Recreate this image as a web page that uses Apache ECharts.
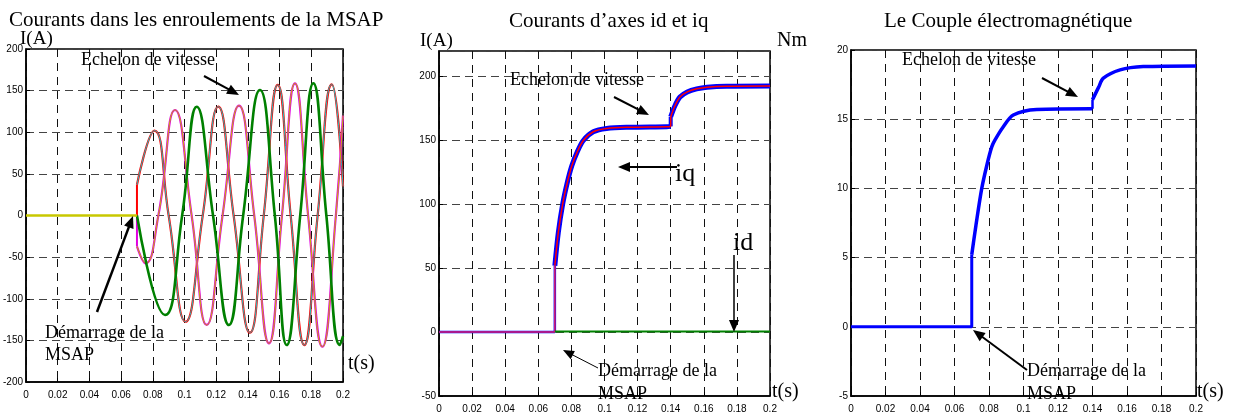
<!DOCTYPE html>
<html>
<head>
<meta charset="utf-8">
<script src="https://cdn.jsdelivr.net/npm/echarts@6/dist/echarts.min.js"></script>
<style>
  html, body { margin: 0; padding: 0; background: #fff; }
  #chart { width: 1234px; height: 414px; }
</style>
</head>
<body>
<div id="chart"></div>
<script>
// ---- panel 1 : courants de phase ----
var tA = [0.07, 0.081, 0.090, 0.1007, 0.1115, 0.1213, 0.131, 0.1413, 0.150, 0.1588, 0.167, 0.1756, 0.184, 0.1929, 0.2];
var vA = [37, 102, 0, -127.6, 0, 130.7, 0, -140.8, 0, 156.8, 0, -155.6, 0, 157.6, 35];
var tB = [0.07, 0.0755, 0.0835, 0.094, 0.1045, 0.114, 0.124, 0.1344, 0.144, 0.1533, 0.1615, 0.1697, 0.178, 0.187, 0.1955, 0.2];
var vB = [-37, -57.5, 0, 126.7, 0, -131.5, 0, 132, 0, -153.5, 0, 158.8, 0, -157.6, 0, 120];
var tC = [0.07, 0.0877, 0.0985, 0.1077, 0.118, 0.128, 0.137, 0.1476, 0.157, 0.1645, 0.173, 0.1813, 0.1895, 0.198, 0.2];
var vC = [0, -119.5, 0, 130.7, 0, -131.5, 0, 150.7, 0, -155.6, 0, 158.8, 0, -155.6, -145];

// ---- panel 2 : courants id / iq ----
var tIq0 = [0, 0.07, 0.07];
var vIq0 = [0, 0, 52];
var tIq1 = [0.07, 0.0721, 0.0747, 0.0775, 0.0802, 0.0835, 0.0872, 0.0932, 0.1013, 0.115, 0.1376, 0.14];
var vIq1 = [52, 78, 100, 117, 130, 141, 150, 156.8, 159.4, 160.3, 160.7, 161];
var tIq2 = [0.14, 0.1425, 0.1456, 0.15, 0.1557, 0.162, 0.1738, 0.2];
var vIq2 = [168.5, 177, 184, 188, 190.4, 191.7, 192.5, 192.7];
var tId = [0.07, 0.2];
var vId = [0.5, 0.5];

// ---- panel 3 : couple electromagnetique ----
var tTe0 = [0, 0.07, 0.07];
var vTe0 = [0, 0, 5.2];
var tTe1 = [0.07, 0.0724, 0.0758, 0.079, 0.0816, 0.0835, 0.088, 0.0941, 0.1077, 0.1395, 0.14];
var vTe1 = [5.2, 7.3, 10, 11.8, 13, 13.5, 14.4, 15.3, 15.7, 15.75, 15.75];
var tTe2 = [0.14, 0.1435, 0.1463, 0.156, 0.1694, 0.2];
var vTe2 = [16.4, 17.3, 17.96, 18.56, 18.8, 18.85];

var xTicks = [0, 0.2, 0.02];   // min, max, interval
var yTicks1 = [-200, 200, 50];
var yTicks2 = [-50, 220, 50];
var yTicks3 = [-5, 20, 5];

function pairs(t, v) {
  return t.map(function (x, i) { return [x, v[i]]; });
}

var serif = '"Liberation Serif", "Times New Roman", serif';
var sans = '"Liberation Sans", Arial, sans-serif';

function xAx(idx) {
  return {
    type: 'value', gridIndex: idx, min: xTicks[0], max: xTicks[1], interval: xTicks[2],
    axisLine: { show: true, onZero: false, lineStyle: { color: '#000', width: 1.5 } },
    axisTick: { show: true, inside: true, length: 4, lineStyle: { color: '#000' } },
    axisLabel: { color: '#000', fontFamily: sans, fontSize: 10, margin: 8 },
    splitLine: { show: true, lineStyle: { color: '#111', type: [8, 6], width: 1 } }
  };
}
function yAx(idx, tk) {
  return {
    type: 'value', gridIndex: idx, min: tk[0], max: tk[1], interval: tk[2],
    axisLine: { show: true, onZero: false, lineStyle: { color: '#000', width: 1.5 } },
    axisTick: { show: true, inside: true, length: 4, lineStyle: { color: '#000' } },
    axisLabel: { color: '#000', fontFamily: sans, fontSize: 10, margin: 3, showMaxLabel: tk[1] % tk[2] === 0 },
    splitLine: { show: true, lineStyle: { color: '#444', type: [8, 5], width: 1 } }
  };
}
function line(idx, data, color, width, smooth) {
  return {
    type: 'line', xAxisIndex: idx, yAxisIndex: idx, data: data, showSymbol: false,
    smooth: smooth || false, animation: false,
    lineStyle: { color: color, width: width }
  };
}

function txt(s, x, base, size, sx) {
  return {
    type: 'text', x: x, y: base - 0.33 * size, z: 100, scaleX: sx || 1,
    style: { text: s, font: size + 'px ' + serif, fill: '#000', verticalAlign: 'middle' }
  };
}
function arrow(x1, y1, x2, y2, w, hl) {
  var dx = x2 - x1, dy = y2 - y1, len = Math.sqrt(dx * dx + dy * dy);
  var ux = dx / len, uy = dy / len;
  hl = hl || 12;
  var hw = hl * 0.42;
  var bx = x2 - ux * hl, by = y2 - uy * hl;
  return [
    { type: 'line', z: 100, shape: { x1: x1, y1: y1, x2: bx + ux * 2, y2: by + uy * 2 }, style: { stroke: '#000', lineWidth: w } },
    { type: 'polygon', z: 100, shape: { points: [[x2, y2], [bx - uy * hw, by + ux * hw], [bx + uy * hw, by - ux * hw]] }, style: { fill: '#000' } }
  ];
}

var chart = echarts.init(document.getElementById('chart'), null, { renderer: 'canvas' });

var graphics = [
  txt('Courants dans les enroulements de la MSAP', 9, 27, 21),
  txt('I(A)', 20, 45, 19),
  txt('Echelon de vitesse', 81, 66, 18),
  txt('Démarrage de la', 45, 339, 18),
  txt('MSAP', 45, 361, 18),
  txt('t(s)', 348, 370, 20),

  txt('Courants d\u2019axes id et iq', 509, 28, 21),
  txt('I(A)', 420, 47, 19),
  txt('Nm', 777, 47, 20),
  txt('Echelon de vitesse', 510, 86, 18),
  txt('iq', 675, 183, 26),
  txt('id', 733, 252, 26),
  txt('Démarrage de la', 598, 377, 18),
  txt('MSAP', 598, 400, 18),
  txt('t(s)', 772, 398, 20),

  txt('Le Couple électromagnétique', 884, 28, 21),
  txt('Echelon de vitesse', 902, 66, 18),
  txt('Démarrage de la', 1027, 377, 18),
  txt('MSAP', 1027, 400, 18),
  txt('t(s)', 1197, 398, 20)
]
  .concat(arrow(204, 76, 239, 95, 2))
  .concat(arrow(97, 312, 133, 216, 2.5))
  .concat(arrow(614, 97, 649, 115, 2))
  .concat(arrow(677, 167, 618, 167, 2))
  .concat(arrow(734, 255, 734, 332, 1.5))
  .concat(arrow(598, 368, 563, 350, 1, 11))
  .concat(arrow(1042, 78, 1078, 97, 2))
  .concat(arrow(1027, 370, 973, 330, 2));

var option = {
  animation: false,
  backgroundColor: '#fff',
  grid: [
    { left: 26, top: 49, width: 317, height: 333, show: true, borderColor: '#000', borderWidth: 1.5 },
    { left: 439, top: 51, width: 331, height: 347, show: true, borderColor: '#000', borderWidth: 1.5 },
    { left: 851, top: 50, width: 345, height: 347, show: true, borderColor: '#000', borderWidth: 1.5 }
  ],
  xAxis: [xAx(0), xAx(1), xAx(2)],
  yAxis: [yAx(0, yTicks1), yAx(1, yTicks2), yAx(2, yTicks3)],
  series: [
    // panel 1
    line(0, [[0.07, 0], [0.07, vA[0]]], '#ff0000', 2),
    line(0, [[0.07, 0], [0.07, vB[0]]], '#e000e0', 2),
    line(0, pairs(tA, vA), '#ff0000', 2.2, 0.5),
    line(0, pairs(tA, vA), '#20c0c0', 1, 0.5),
    line(0, pairs(tB, vB), '#e000e0', 2.2, 0.5),
    line(0, pairs(tB, vB), '#c8b400', 1, 0.5),
    line(0, pairs(tC, vC), '#008000', 2.6, 0.5),
    line(0, [[0, 0], [0.07, 0]], '#c8c800', 2.5),
    // panel 2
    line(1, pairs(tIq1, vIq1), '#0000ff', 5, 0.3),
    line(1, [[0.14, vIq1[vIq1.length - 1]], [0.14, vIq2[0]]], '#0000ff', 4),
    line(1, pairs(tIq2, vIq2), '#0000ff', 5, 0.3),
    line(1, pairs(tIq0, vIq0), '#0000ff', 2.5),
    line(1, pairs(tIq0, vIq0), '#e0206a', 1.5),
    line(1, pairs(tIq1, vIq1), '#ff0000', 1.5, 0.3),
    line(1, pairs(tIq2, vIq2), '#ff0000', 1.5, 0.3),
    line(1, [[0.14, vIq1[vIq1.length - 1]], [0.14, vIq2[0]]], '#ff0000', 1.5),
    line(1, pairs(tId, vId), '#008000', 2),
    // panel 3
    line(2, pairs(tTe0, vTe0), '#0000ff', 3),
    line(2, pairs(tTe1, vTe1), '#0000ff', 3.5, 0.3),
    line(2, [[0.14, vTe1[vTe1.length - 1]], [0.14, vTe2[0]]], '#0000ff', 2.5),
    line(2, pairs(tTe2, vTe2), '#0000ff', 3.5, 0.3)
  ],
  graphic: { elements: graphics }
};
chart.setOption(option);
</script>
</body>
</html>
